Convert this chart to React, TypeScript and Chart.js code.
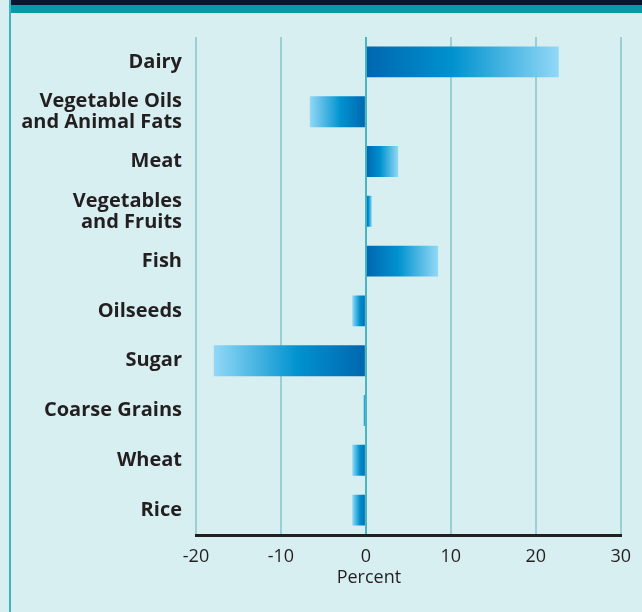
import React, { useEffect, useRef } from "react";
import { Chart, registerables } from "chart.js";

Chart.register(...registerables);

// Commodity groups, top to bottom
const categories: (string | string[])[] = [
  "Dairy",
  ["Vegetable Oils", "and Animal Fats"],
  "Meat",
  ["Vegetables", "and Fruits"],
  "Fish",
  "Oilseeds",
  "Sugar",
  "Coarse Grains",
  "Wheat",
  "Rice",
];

// Percent change for each group
const percentChange = [22.7, -6.6, 3.8, 0.7, 8.5, -1.6, -17.9, -0.3, -1.6, -1.6];

const xTickValues = [-20, -10, 0, 10, 20, 30];
const xAxisTitle = "Percent";

const BG = "#d8eff1";
const TEXT = "#231f20";
const GRID = "#98d0d6";
const ZERO = "#48b6bf";
const FONT = "'Open Sans', sans-serif";

// Axis title sits under the zero line rather than the middle of the axis
const axisTitlePlugin = {
  id: "axisTitleAtZero",
  afterDraw(chart: any) {
    const xs = chart.scales.x;
    if (!xs) return;
    const ctx = chart.ctx;
    ctx.save();
    ctx.fillStyle = TEXT;
    ctx.font = `18px ${FONT}`;
    ctx.textAlign = "center";
    ctx.textBaseline = "middle";
    ctx.fillText(xAxisTitle, xs.getPixelForValue(0) + 3, 578);
    ctx.restore();
  },
};

export default function App() {
  const canvasRef = useRef<HTMLCanvasElement | null>(null);

  useEffect(() => {
    document.body.style.margin = "0";
    const canvas = canvasRef.current;
    if (!canvas) return;

    const chart = new Chart(canvas, {
      type: "bar",
      data: {
        labels: categories,
        datasets: [
          {
            data: percentChange,
            borderWidth: 0,
            categoryPercentage: 1,
            barPercentage: 0.62,
            backgroundColor: (ctx: any) => {
              const c = ctx.chart;
              const xs = c.scales && c.scales.x;
              const v = ctx.raw as number;
              if (!xs || typeof v !== "number") return "#0090cc";
              const x0 = xs.getPixelForValue(0);
              const x1 = xs.getPixelForValue(v);
              if (!isFinite(x0) || !isFinite(x1)) return "#0090cc";
              if (Math.abs(x1 - x0) < 0.5) return "#0068b0";
              const g = c.ctx.createLinearGradient(x0, 0, x1, 0);
              g.addColorStop(0, "#0066af");
              g.addColorStop(0.45, "#0092cf");
              g.addColorStop(1, "#92d8f6");
              return g;
            },
          },
        ],
      },
      options: {
        indexAxis: "y",
        responsive: false,
        animation: false,
        layout: { padding: { left: 10, right: 21, top: 37, bottom: 0 } },
        plugins: {
          legend: { display: false },
          tooltip: { enabled: false },
        },
        scales: {
          x: {
            min: xTickValues[0],
            max: xTickValues[xTickValues.length - 1],
            afterBuildTicks: (scale: any) => {
              scale.ticks = xTickValues.map((v) => ({ value: v }));
            },
            afterFit: (scale: any) => {
              scale.height = 77;
            },
            grid: {
              drawTicks: false,
              color: (ctx: any) => (ctx.tick && ctx.tick.value === 0 ? ZERO : GRID),
              lineWidth: 2,
            },
            border: { display: true, color: TEXT, width: 3 },
            ticks: {
              padding: 11,
              color: TEXT,
              font: { family: FONT, size: 18 },
              callback: (v: any) => String(v),
            },
            title: { display: false },
          },
          y: {
            afterFit: (scale: any) => {
              scale.width = 186;
            },
            grid: { display: false, drawTicks: false },
            border: { display: false },
            ticks: {
              padding: 14,
              color: TEXT,
              font: { family: FONT, size: 20, weight: "bold", lineHeight: 1.05 },
            },
          },
        },
      },
      plugins: [axisTitlePlugin],
    } as any);
    // refresh once layout exists so the bar gradients get real pixel positions
    chart.update();

    return () => chart.destroy();
  }, []);

  return (
    <div style={{ position: "relative", width: 642, height: 612, background: BG, overflow: "hidden" }}>
      <div style={{ position: "absolute", left: 10, top: 0, right: 0, height: 5, background: "#0b1530" }} />
      <div style={{ position: "absolute", left: 10, top: 5, right: 0, height: 8, background: "#0899a6" }} />
      <div style={{ position: "absolute", left: 9, top: 0, width: 2, bottom: 0, background: "#3fb3bd" }} />
      <canvas
        ref={canvasRef}
        width={642}
        height={612}
        style={{ position: "absolute", left: 0, top: 0, width: 642, height: 612 }}
      />
    </div>
  );
}
